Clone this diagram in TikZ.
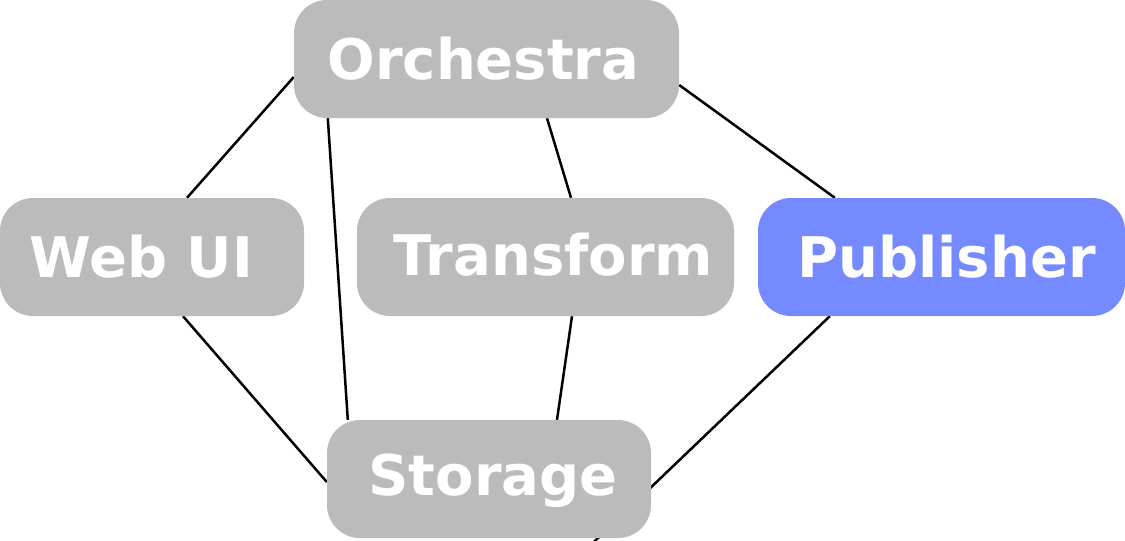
\documentclass[tikz,border=0pt]{standalone}
\usepackage{fontspec}
\setmainfont{DejaVu Sans}
\newfontfamily\boxfont{DejaVu Sans}
\usetikzlibrary{calc,backgrounds}
\definecolor{boxgray}{HTML}{BBBBBB}
\definecolor{pubblue}{HTML}{768AFF}
\tikzset{
  box/.style={rounded corners=33pt, fill=boxgray, text=white, minimum height=118pt,
    inner sep=0pt, font=\boxfont\bfseries\fontsize{56}{60}\selectfont,
    text height=40.8pt, text depth=0pt},
  link/.style={draw=black, line width=2.5pt}
}
\begin{document}
\begin{tikzpicture}[x=1pt,y=-1pt]
\clip (0,0) rectangle (1125,541);
\node[box, minimum width=385pt] (orch) at (486.5,59) {\hspace*{-6pt}Orchestra};
\node[box, minimum width=304pt] (web) at (152,257) {\hspace*{-21pt}Web UI};
\node[box, minimum width=377pt, text depth=4pt] (trans) at (545.5,257) {\hspace*{16pt}Transform};
\node[box, minimum width=367pt, fill=pubblue] (pub) at (941.5,257) {\hspace*{10pt}Publisher};
\node[box, minimum width=324pt, text depth=8pt] (stor) at (489,479) {\hspace*{8pt}Storage};
\coordinate (pubend) at (575,560);
\begin{scope}[on background layer]
\draw[link] ($(orch.west)+(0,18)$) -- ($(web.north)+(35,0)$);
\draw[link] ($(orch.south west)+(34,0)$) -- ($(stor.north west)+(21,0)$);
\draw[link] ($(orch.south)+(60.5,0)$) -- ($(trans.north)+(25.5,0)$);
\draw[link] ($(orch.east)+(0,26)$) -- ($(pub.north west)+(77,0)$);
\draw[link] ($(web.south)+(31,0)$) -- ($(stor.west)+(0,3)$);
\draw[link] ($(trans.south)+(26.5,0)$) -- ($(stor.north)+(68,0)$);
\draw[link] ($(pub.south west)+(72,0)$) -- (pubend);
\end{scope}
\end{tikzpicture}
\end{document}
